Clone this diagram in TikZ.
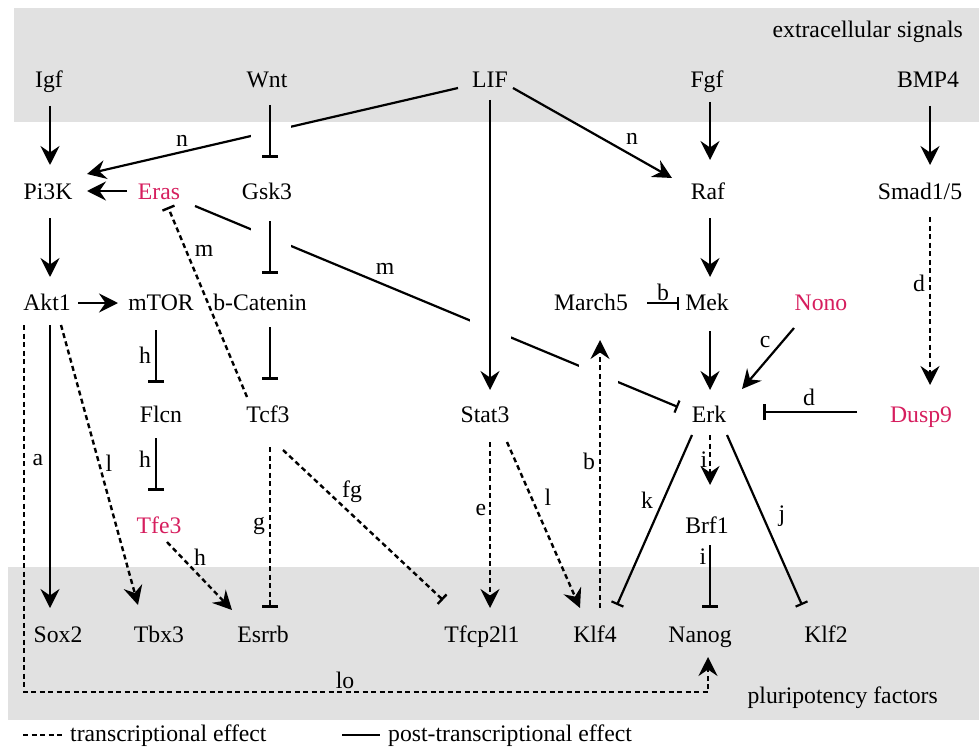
\documentclass[tikz,border=0pt]{standalone}
\usepackage{fontspec}
\setmainfont{Liberation Serif}
\usetikzlibrary{arrows.meta}
\definecolor{hlcol}{RGB}{214,30,94}
\definecolor{bandcol}{RGB}{225,225,225}
\begin{document}
\begin{tikzpicture}[x=1pt,y=-1pt,
  every node/.style={font=\fontsize{23.7}{28}\selectfont, inner sep=0pt},
  gene/.style={anchor=base},
  hlg/.style={text=hlcol},
  post/.style={line width=2.2pt},
  trans/.style={line width=2.4pt, dash pattern=on 5pt off 3.5pt},
  act/.style={-{Stealth[length=19pt,width=19pt,inset=6.5pt]}},
  inhT/.style={-{Bar[width=16pt,line width=3.2pt]}},
  inh/.style={-{Bar[width=13pt]}},
  gap/.style={fill=white},
]
\useasboundingbox (0,0) rectangle (979,749);
\fill[bandcol] (14,8) rectangle (979,122);
\fill[bandcol] (8,567) rectangle (979,720);
\node[anchor=base east] (ext) at (963,38) {extracellular signals};
\node[anchor=base east] (plu) at (938,703) {pluripotency factors};

% genes
\node[gene] (Igf) at (49,88) {Igf};
\node[gene] (Wnt) at (267,88) {Wnt};
\node[gene] (LIF) at (490,88) {LIF};
\node[gene] (Fgf) at (707,88) {Fgf};
\node[gene] (BMP4) at (928,88) {BMP4};
\node[gene] (Pi3K) at (48,199) {Pi3K};
\node[gene,hlg] (Eras) at (159,199) {Eras};
\node[gene] (Gsk3) at (267,199) {Gsk3};
\node[gene] (Raf) at (708,199) {Raf};
\node[gene] (Smad) at (920,199) {Smad1/5};
\node[gene] (Akt1) at (47,310) {Akt1};
\node[gene] (mTOR) at (161,310) {mTOR};
\node[gene] (bCat) at (260,310) {b-Catenin};
\node[gene] (March5) at (591,310) {March5};
\node[gene] (Mek) at (707,310) {Mek};
\node[gene,hlg] (Nono) at (821,310) {Nono};
\node[gene] (Flcn) at (161,422) {Flcn};
\node[gene] (Tcf3) at (268,422) {Tcf3};
\node[gene] (Stat3) at (485,422) {Stat3};
\node[gene] (Erk) at (709,422) {Erk};
\node[gene,hlg] (Dusp9) at (921,422) {Dusp9};
\node[gene,hlg] (Tfe3) at (159,533) {Tfe3};
\node[gene] (Brf1) at (707,533) {Brf1};
\node[gene] (Sox2) at (58,642) {Sox2};
\node[gene] (Tbx3) at (159,642) {Tbx3};
\node[gene] (Esrrb) at (263,642) {Esrrb};
\node[gene] (Tfcp) at (482,642) {Tfcp2l1};
\node[gene] (Klf4) at (595,642) {Klf4};
\node[gene] (Nanog) at (700,642) {Nanog};
\node[gene] (Klf2) at (826,642) {Klf2};

% long diagonals (drawn first, then gaps cut)
\draw[post,act] ([shift={(-32,0)}]LIF.base) -- ([shift={(39,-25)}]Pi3K.base);
\draw[post,inh] ([shift={(36,7)}]Eras.base) -- ([shift={(-31,-15)}]Erk.base);
\fill[gap] (251,124) rectangle (291,141);
\fill[gap] (251,226) rectangle (291,250);
\fill[gap] (470,316) rectangle (511,342);
\fill[gap] (579,361) rectangle (618,387);

% solid connectors
\draw[post,act] ([shift={(1,18)}]Igf.base) -- ([shift={(2,-34)}]Pi3K.base);
\draw[post,inhT] ([shift={(3,17)}]Wnt.base) -- ([shift={(3,-41)}]Gsk3.base);
\draw[post,act] ([shift={(-32,-8)}]Eras.base) -- ([shift={(39,-8)}]Pi3K.base);
\draw[post,act] ([shift={(23,0)}]LIF.base) -- ([shift={(-36,-21)}]Raf.base);
\draw[post,act] ([shift={(3,14)}]Fgf.base) -- ([shift={(2,-39)}]Raf.base);
\draw[post,act] ([shift={(2,18)}]BMP4.base) -- ([shift={(10,-34)}]Smad.base);
\draw[post,act] ([shift={(2,19)}]Pi3K.base) -- ([shift={(3,-33)}]Akt1.base);
\draw[post,inhT] ([shift={(3,22)}]Gsk3.base) -- ([shift={(10,-36)}]bCat.base);
\draw[post,act] ([shift={(2,19)}]Raf.base) -- ([shift={(3,-33)}]Mek.base);
\draw[post,act] ([shift={(0,12)}]LIF.base) -- ([shift={(5,-32)}]Stat3.base);
\draw[post,act] ([shift={(31,-7)}]Akt1.base) -- ([shift={(-43,-7)}]mTOR.base);
\draw[post,inh] ([shift={(56,-7)}]March5.base) -- ([shift={(-28,-7)}]Mek.base);
\draw[post,inhT] ([shift={(-5,20)}]mTOR.base) -- ([shift={(-5,-39)}]Flcn.base);
\draw[post,inhT] ([shift={(10,17)}]bCat.base) -- ([shift={(2,-42)}]Tcf3.base);
\draw[post,act] ([shift={(3,21)}]Mek.base) -- ([shift={(1,-32)}]Erk.base);
\draw[post,act] ([shift={(-27,18)}]Nono.base) -- ([shift={(33,-33)}]Erk.base);
\draw[post,inhT] ([shift={(-64,-10)}]Dusp9.base) -- ([shift={(54,-10)}]Erk.base);
\draw[post,inhT] ([shift={(-5,16)}]Flcn.base) -- ([shift={(-3,-42)}]Tfe3.base);
\draw[post,inh] ([shift={(-17,13)}]Erk.base) -- ([shift={(22,-37)}]Klf4.base);
\draw[post,inh] ([shift={(18,13)}]Erk.base) -- ([shift={(-24,-37)}]Klf2.base);
\draw[post,inhT] ([shift={(3,12)}]Brf1.base) -- ([shift={(10,-34)}]Nanog.base);
\draw[post,act] ([shift={(3,15)}]Akt1.base) -- ([shift={(-8,-34)}]Sox2.base);

% dashed connectors
\draw[trans,inh] ([shift={(-21,-25)}]Tcf3.base) -- ([shift={(9,8)}]Eras.base);
\draw[trans,act] ([shift={(10,18)}]Smad.base) -- ([shift={(9,-37)}]Dusp9.base);
\draw[trans,inhT] ([shift={(2,25)}]Tcf3.base) -- ([shift={(7,-34)}]Esrrb.base);
\draw[trans,inh] ([shift={(15,28)}]Tcf3.base) -- ([shift={(-39,-42)}]Tfcp.base);
\draw[trans,act] ([shift={(5,20)}]Stat3.base) -- ([shift={(8,-34)}]Tfcp.base);
\draw[trans,act] ([shift={(22,20)}]Stat3.base) -- ([shift={(-15,-34)}]Klf4.base);
\draw[trans,act] ([shift={(5,-34)}]Klf4.base) -- ([shift={(9,30)}]March5.base);
\draw[trans,act] ([shift={(1,13)}]Erk.base) -- ([shift={(3,-48)}]Brf1.base);
\draw[trans,act] ([shift={(14,15)}]Akt1.base) -- ([shift={(-21,-37)}]Tbx3.base);
\draw[trans,act] ([shift={(8,9)}]Tfe3.base) -- ([shift={(-31,-32)}]Esrrb.base);
\coordinate (loc) at (708,692);
\draw[trans,act] ([shift={(-23,15)}]Akt1.base) |- (loc) -- ([shift={(8,15)}]Nanog.base);

% edge labels
\node (l1) at (182,141) {n};
\node (l2) at (632,139) {n};
\node (l3) at (204,251) {m};
\node (l4) at (385,269) {m};
\node (l5) at (663,292) {b};
\node (l6) at (765,342) {c};
\node (l7) at (919,283) {d};
\node (l8) at (809,397) {d};
\node (l9) at (145,355) {h};
\node (l10) at (145,459) {h};
\node (l11) at (38,460) {a};
\node (l12) at (109,463) {l};
\node (l13) at (352,492) {fg};
\node (l14) at (259,526) {g};
\node (l15) at (200,557) {h};
\node (l16) at (481,510) {e};
\node (l17) at (548,497) {l};
\node (l18) at (589,461) {b};
\node (l19) at (647,500) {k};
\node (l20) at (704,460) {i};
\node (l21) at (782,516) {j};
\node (l22) at (703,557) {i};
\node (l23) at (345,680) {lo};

% legend
\coordinate (lga) at (23,735);
\coordinate (lgb) at (63,735);
\coordinate (lgc) at (342,735);
\coordinate (lgd) at (380,735);
\draw[trans] (lga) -- (lgb);
\node[anchor=base west] (lgt1) at (70,741) {transcriptional effect};
\draw[post] (lgc) -- (lgd);
\node[anchor=base west] (lgt2) at (388,741) {post-transcriptional effect};
\end{tikzpicture}
\end{document}
